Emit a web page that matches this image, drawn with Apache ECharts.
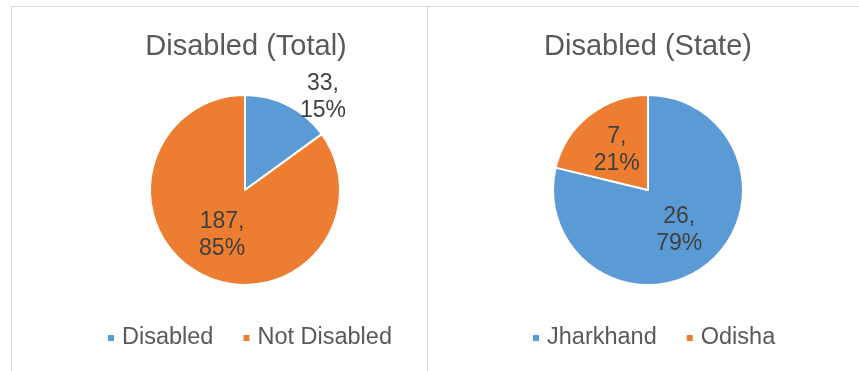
<!DOCTYPE html>
<html>
<head>
<meta charset="utf-8">
<script src="https://cdn.jsdelivr.net/npm/echarts@6/dist/echarts.min.js"></script>
<style>
  html, body { margin: 0; padding: 0; background: #fff; }
  #chart { width: 859px; height: 371px; }
</style>
</head>
<body>
<div id="chart"></div>
<script>
// Disability counts: overall split and split by state
const totalCategories = ['Disabled', 'Not Disabled'];
const totalValues = [33, 187];
const stateCategories = ['Jharkhand', 'Odisha'];
const stateValues = [26, 7];

const titles = ['Disabled (Total)', 'Disabled (State)'];
const BLUE = '#5B9BD5';
const ORANGE = '#ED7D31';
const FONT = '"Liberation Sans", Arial, sans-serif';

const chart = echarts.init(document.getElementById('chart'), null, { renderer: 'canvas' });

function pieData(names, values, colors) {
  return names.map((n, i) => ({ name: n, value: values[i], itemStyle: { color: colors[i] } }));
}

const labelStyle = {
  show: true,
  position: 'inside',
  formatter: '{c},\n{d}%',
  color: '#404040',
  fontSize: 23,
  lineHeight: 27,
  fontFamily: FONT,
  align: 'center'
};

const titleStyle = { fontSize: 29, fontWeight: 'normal', color: '#595959', fontFamily: FONT };
const legendText = { fontSize: 23.5, color: '#595959', fontFamily: FONT, padding: [0, 0, 0, 2] };

const leftData = pieData(totalCategories, totalValues, [BLUE, ORANGE]);
// the small slice carries its label just beyond the rim
leftData[0].label = { offset: [55, -48] };

const option = {
  backgroundColor: '#fff',
  animation: false,
  graphic: [
    { type: 'rect', shape: { x: 11.5, y: 6.5, width: 416, height: 400 }, style: { fill: 'none', stroke: '#D9D9D9', lineWidth: 1 } },
    { type: 'rect', shape: { x: 427.5, y: 6.5, width: 440, height: 400 }, style: { fill: 'none', stroke: '#D9D9D9', lineWidth: 1 } }
  ],
  title: [
    { text: titles[0], left: 241, top: 27, textAlign: 'center', textStyle: titleStyle },
    { text: titles[1], left: 643, top: 27, textAlign: 'center', textStyle: titleStyle }
  ],
  legend: [
    {
      data: totalCategories, left: 106, top: 326, icon: 'rect', itemWidth: 8, itemHeight: 8, itemGap: 28, padding: 0,
      textStyle: legendText
    },
    {
      data: stateCategories, left: 531, top: 326, icon: 'rect', itemWidth: 8, itemHeight: 8, itemGap: 28, padding: 0,
      textStyle: legendText
    }
  ],
  series: [
    {
      type: 'pie', center: [245, 190], radius: 95, startAngle: 90, clockwise: true,
      percentPrecision: 0,
      itemStyle: { borderColor: '#fff', borderWidth: 2 },
      label: labelStyle, labelLine: { show: false },
      emphasis: { disabled: true },
      data: leftData
    },
    {
      type: 'pie', center: [648, 190], radius: 95, startAngle: 90, clockwise: true,
      percentPrecision: 0,
      itemStyle: { borderColor: '#fff', borderWidth: 2 },
      label: labelStyle, labelLine: { show: false },
      emphasis: { disabled: true },
      data: pieData(stateCategories, stateValues, [BLUE, ORANGE])
    }
  ]
};

chart.setOption(option);
</script>
</body>
</html>
